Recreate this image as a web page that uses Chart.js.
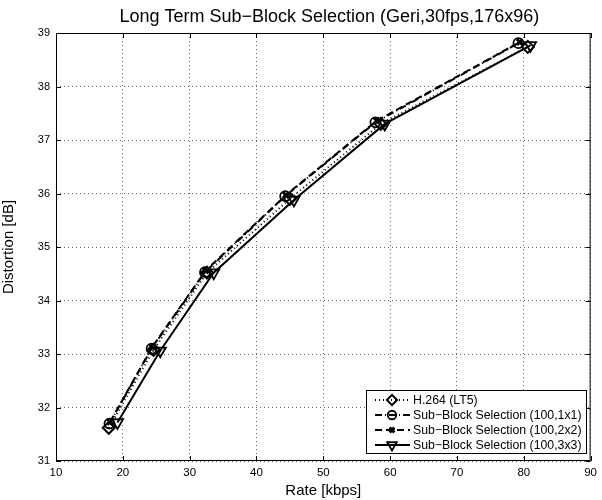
<!DOCTYPE html>
<html>
<head>
<meta charset="utf-8">
<script src="https://cdn.jsdelivr.net/npm/chart.js@4"></script>
<style>
  html, body { margin: 0; padding: 0; background: #fff; }
  #wrap { width: 602px; height: 500px; }
</style>
</head>
<body>
<div id="wrap"><canvas id="chart" width="602" height="500"></canvas></div>
<script>
// values (rate kbps, distortion dB)
const chartTitle = "Long Term Sub\u2212Block Selection (Geri,30fps,176x96)";
const seriesNames = [
  "H.264 (LT5)",
  "Sub\u2212Block Selection (100,1x1)",
  "Sub\u2212Block Selection (100,2x2)",
  "Sub\u2212Block Selection (100,3x3)"
];
const rateLT5 = [17.9, 24.6, 32.6, 45.0, 58.6, 80.6];
const distLT5 = [31.62, 33.08, 34.52, 35.90, 37.30, 38.74];
const rate1x1 = [18.0, 24.3, 32.3, 44.3, 57.8, 79.2];
const dist1x1 = [31.70, 33.10, 34.53, 35.95, 37.33, 38.81];
const rate2x2 = [18.1, 24.4, 32.4, 44.4, 58.0, 79.4];
const dist2x2 = [31.73, 33.13, 34.56, 35.97, 37.36, 38.83];
const rate3x3 = [19.2, 25.6, 33.6, 45.6, 59.2, 81.0];
const dist3x3 = [31.72, 33.06, 34.52, 35.88, 37.30, 38.77];
const xTicks = [10, 20, 30, 40, 50, 60, 70, 80, 90];
const yTicks = [31, 32, 33, 34, 35, 36, 37, 38, 39];

const FONT = "'Liberation Sans', Arial, sans-serif";

function pts(xs, ys) {
  return xs.map((x, i) => ({ x, y: ys[i] }));
}

const styles = [
  { dash: [1, 3], point: "rectRot", radius: 6, rot: 0, bw: 2 },
  { dash: [7, 3, 1, 3], point: "circle", radius: 5, rot: 0, bw: 1.8 },
  { dash: [7, 4], point: "crossRot", radius: 4, rot: 0, bw: 3 },
  { dash: [], point: "triangle", radius: 6.5, rot: 180, bw: 1.8 }
];

const datasets = [
  pts(rateLT5, distLT5),
  pts(rate1x1, dist1x1),
  pts(rate2x2, dist2x2),
  pts(rate3x3, dist3x3)
].map((data, i) => ({
  label: seriesNames[i],
  data,
  borderColor: "#000",
  borderWidth: 2,
  borderDash: styles[i].dash,
  pointStyle: styles[i].point,
  pointRadius: styles[i].radius,
  pointRotation: styles[i].rot,
  pointBorderWidth: styles[i].bw,
  pointBorderColor: "#000",
  pointBackgroundColor: "rgba(255,255,255,0)",
  fill: false,
  tension: 0
}));

// box, inward ticks, title and legend in MATLAB style
const matlabFrame = {
  id: "matlabFrame",
  afterDraw(chart) {
    const { ctx, chartArea: a, scales } = chart;
    ctx.save();
    ctx.strokeStyle = "#000";
    ctx.lineWidth = 1;
    ctx.setLineDash([]);
    ctx.strokeRect(a.left + 0.5, a.top + 0.5, a.right - a.left - 1, a.bottom - a.top - 1);
    ctx.beginPath();
    xTicks.forEach((v) => {
      const px = Math.round(scales.x.getPixelForValue(v)) + 0.5;
      ctx.moveTo(px, a.bottom); ctx.lineTo(px, a.bottom - 5);
      ctx.moveTo(px, a.top); ctx.lineTo(px, a.top + 5);
    });
    yTicks.forEach((v) => {
      const py = Math.round(scales.y.getPixelForValue(v)) + 0.5;
      ctx.moveTo(a.left, py); ctx.lineTo(a.left + 5, py);
      ctx.moveTo(a.right, py); ctx.lineTo(a.right - 5, py);
    });
    ctx.stroke();

    // title centred over the axes
    ctx.fillStyle = "#000";
    ctx.font = "18px " + FONT;
    ctx.textAlign = "center";
    ctx.textBaseline = "middle";
    ctx.fillText(chartTitle, (a.left + a.right) / 2 + 6, 17);

    // legend
    const lx = 366, ly = 390, lw = 220, lh = 63;
    ctx.fillStyle = "#fff";
    ctx.fillRect(lx, ly, lw, lh);
    ctx.lineWidth = 1;
    ctx.strokeStyle = "#000";
    ctx.strokeRect(lx + 0.5, ly + 0.5, lw, lh);
    ctx.font = "12.3px " + FONT;
    ctx.textAlign = "left";
    chart.data.datasets.forEach((ds, i) => {
      const y = ly + 10 + i * 15;
      ctx.strokeStyle = "#000";
      ctx.lineWidth = 2;
      ctx.setLineDash(ds.borderDash);
      ctx.beginPath();
      ctx.moveTo(lx + 9, y);
      ctx.lineTo(lx + 44, y);
      ctx.stroke();
      ctx.setLineDash([]);
      ctx.fillStyle = "rgba(255,255,255,0)";
      ctx.lineWidth = ds.pointBorderWidth;
      Chart.helpers.drawPoint(ctx, {
        pointStyle: ds.pointStyle,
        radius: ds.pointRadius * 0.85,
        rotation: ds.pointRotation,
        borderWidth: ds.pointBorderWidth
      }, lx + 26, y);
      ctx.fillStyle = "#000";
      ctx.fillText(ds.label, lx + 47, y + 0.5);
    });
    ctx.restore();
  }
};

new Chart(document.getElementById("chart"), {
  type: "line",
  data: { datasets },
  plugins: [matlabFrame],
  options: {
    responsive: false,
    animation: false,
    layout: { padding: { top: 33, right: 8, bottom: 0, left: 0 } },
    plugins: {
      legend: { display: false },
      tooltip: { enabled: false },
      title: { display: false }
    },
    scales: {
      x: {
        type: "linear",
        min: 10,
        max: 90,
        afterBuildTicks: (s) => { s.ticks = xTicks.map((v) => ({ value: v })); },
        afterFit: (s) => { s.height = 39; },
        grid: { color: "#666", drawTicks: false, lineWidth: 1 },
        border: { display: false, dash: [1, 3] },
        ticks: { color: "#000", padding: 5, font: { family: FONT, size: 11.5 } },
        title: {
          display: true,
          text: "Rate [kbps]",
          color: "#000",
          padding: { top: 1, bottom: 0 },
          font: { family: FONT, size: 15 }
        }
      },
      y: {
        type: "linear",
        min: 31,
        max: 39,
        afterBuildTicks: (s) => { s.ticks = yTicks.map((v) => ({ value: v })); },
        afterFit: (s) => { s.width = 56; },
        grid: { color: "#666", drawTicks: false, lineWidth: 1 },
        border: { display: false, dash: [1, 3] },
        ticks: { color: "#000", padding: 6, font: { family: FONT, size: 11 } },
        title: {
          display: true,
          text: "Distortion [dB]",
          color: "#000",
          padding: { top: 0, bottom: 2 },
          font: { family: FONT, size: 15 }
        }
      }
    }
  }
});
</script>
</body>
</html>
